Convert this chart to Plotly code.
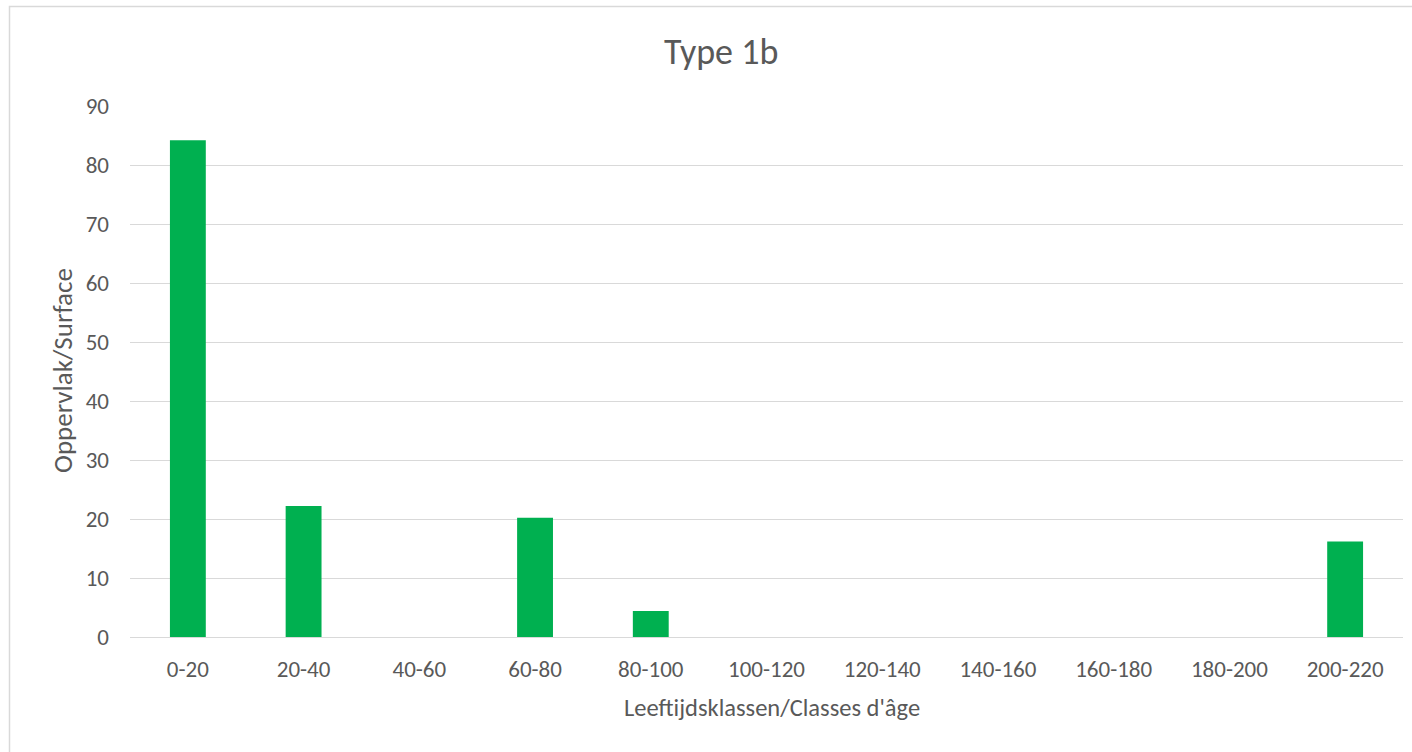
import plotly.graph_objects as go

# Age classes and surface per class
categories = ["0-20", "20-40", "40-60", "60-80", "80-100", "100-120",
              "120-140", "140-160", "160-180", "180-200", "200-220"]
surface = [84.2, 22.2, 0, 20.2, 4.4, 0, 0, 0, 0, 0, 16.2]

y_ticks = list(range(0, 100, 10))

W, H = 1412, 752
M_L, M_R, M_T, M_B = 130, 9, 106, 115
PW, PH = W - M_L - M_R, H - M_T - M_B


def px_x(x):
    return (x - M_L) / PW


def px_y(y):
    return (H - M_B - y) / PH


FONT = "Carlito, Lato, sans-serif"
TXT = "#595959"
GRID = "#d9d9d9"

fig = go.Figure(go.Bar(
    x=categories,
    y=surface,
    marker=dict(color="#00B050", line=dict(width=0)),
))

fig.update_layout(
    width=W, height=H,
    margin=dict(l=M_L, r=M_R, t=M_T, b=M_B),
    paper_bgcolor="white",
    plot_bgcolor="white",
    bargap=0.69,
    showlegend=False,
    font=dict(family=FONT, color=TXT),
    xaxis=dict(
        type="category",
        showgrid=False,
        showline=False,
        ticks="",
        tickfont=dict(size=23, color=TXT),
        ticklabelstandoff=16,
    ),
    yaxis=dict(
        range=[0, 90],
        tickvals=y_ticks,
        showgrid=True,
        gridcolor=GRID,
        gridwidth=1.3,
        zeroline=True,
        zerolinecolor=GRID,
        zerolinewidth=1.3,
        showline=False,
        ticks="",
        tickfont=dict(size=23, color=TXT),
        ticklabelstandoff=20,
    ),
    annotations=[
        dict(text="Type 1b", x=px_x(721), y=px_y(52), xref="paper", yref="paper",
             showarrow=False, font=dict(size=36, color=TXT, family=FONT),
             xanchor="center", yanchor="middle"),
        dict(text="Leeftijdsklassen/Classes d'âge", x=px_x(772), y=px_y(708),
             xref="paper", yref="paper", showarrow=False,
             font=dict(size=24.5, color=TXT, family=FONT),
             xanchor="center", yanchor="middle"),
        dict(text="Oppervlak/Surface", x=px_x(62), y=px_y(371),
             xref="paper", yref="paper", showarrow=False, textangle=-90,
             font=dict(size=27, color=TXT, family=FONT),
             xanchor="center", yanchor="middle"),
    ],
    shapes=[
        # chart-area frame: top edge runs off the right side, left edge off the bottom
        dict(type="path", xref="paper", yref="paper",
             path=(f"M {px_x(9.5)},{px_y(760)} L {px_x(9.5)},{px_y(6.5)} "
                   f"L {px_x(1430)},{px_y(6.5)}"),
             line=dict(color=GRID, width=1.5), layer="below"),
    ],
)

fig.write_html("out.html")
